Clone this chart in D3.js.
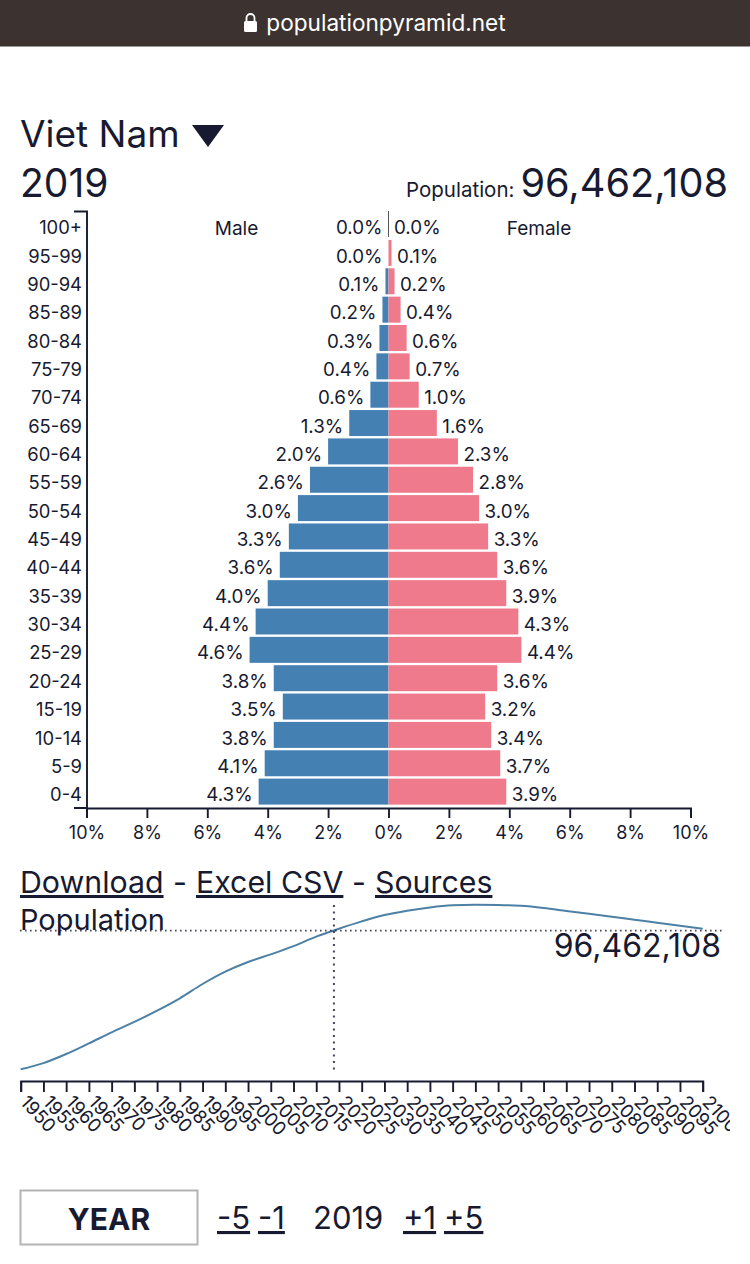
<!DOCTYPE html>
<html><head><meta charset="utf-8">
<script src="https://cdnjs.cloudflare.com/ajax/libs/d3/7.8.5/d3.min.js"></script>
<style>
html,body{margin:0;padding:0;background:#fff;overflow:hidden}
svg{display:block}
text{font-family:Inter,"Noto Sans",sans-serif;fill:#171a30}
.domain,.tick line{stroke:#171a30;stroke-width:1.9;fill:none}
</style></head><body>
<svg id="c" width="750" height="1264"></svg>
<script>
const ageGroups=["100+","95-99","90-94","85-89","80-84","75-79","70-74","65-69","60-64","55-59","50-54","45-49","40-44","35-39","30-34","25-29","20-24","15-19","10-14","5-9","0-4"];
const malePct=[0.0,0.0,0.1,0.2,0.3,0.4,0.6,1.3,2.0,2.6,3.0,3.3,3.6,4.0,4.4,4.6,3.8,3.5,3.8,4.1,4.3];
const femalePct=[0.0,0.1,0.2,0.4,0.6,0.7,1.0,1.6,2.3,2.8,3.0,3.3,3.6,3.9,4.3,4.4,3.6,3.2,3.4,3.7,3.9];
const pctTicks=[10,8,6,4,2,0,-2,-4,-6,-8,-10];
const years=[1950,1955,1960,1965,1970,1975,1980,1985,1990,1995,2000,2005,2010,2015,2020,2025,2030,2035,2040,2045,2050,2055,2060,2065,2070,2075,2080,2085,2090,2095,2100];
const popMillions=[24.8,28.0,32.7,38.2,43.9,49.3,55.1,61.5,68.9,75.3,80.3,84.2,88.5,93.4,97.5,101.3,104.6,106.8,108.5,109.6,109.9,109.8,109.3,108.2,106.7,105.2,103.7,102.1,100.6,99.0,97.5];
const currentYear=2019, currentPop=96.462108;

const ink="#171a30", blue="#4580b3", pink="#ef7a8b", lineColor="#4d80a6";
const svg=d3.select("#c");
const T=(x,y,s,size,o={})=>{const t=svg.append("text").attr("x",x).attr("y",y).attr("font-size",size).text(s);
  if(o.anchor)t.attr("text-anchor",o.anchor);if(o.weight)t.attr("font-weight",o.weight);
  if(o.u)t.style("text-decoration","underline");if(o.fill)t.style("fill",o.fill);return t;};

// browser bar
svg.append("rect").attr("width",750).attr("height",46.5).attr("fill","#3c3331");
svg.append("rect").attr("x",244).attr("y",21).attr("width",13).attr("height",11).attr("rx",1.5).attr("fill","#fff");
svg.append("path").attr("d","M246.5 21v-3a4 4 0 0 1 8 0v3").attr("fill","none").attr("stroke","#fff").attr("stroke-width",1.8);
T(386,31,"populationpyramid.net",22.6,{anchor:"middle",fill:"#fff"});

// headings
T(20,147,"Viet Nam",37);
svg.append("path").attr("d","M192 125H224L208 147Z").attr("fill",ink);
T(20,197,"2019",39);
T(406,196.5,"Population:",20.5);
T(728,197,"96,462,108",39.7,{anchor:"end"});

// pyramid
const x=d3.scaleLinear().domain([10,-10]).range([86.5,690.5]);
const y=d3.scaleBand().domain(ageGroups).range([211.6,804.6]).paddingInner(0.083);
const rows=ageGroups.map((a,i)=>({a,m:malePct[i],f:femalePct[i]}));
svg.append("g").selectAll("rect").data(rows).join("rect")
  .attr("x",d=>x(d.m)).attr("y",d=>y(d.a)).attr("width",d=>x(0)-x(d.m)).attr("height",y.bandwidth()).attr("fill",blue);
svg.append("g").selectAll("rect").data(rows).join("rect")
  .attr("x",x(0)).attr("y",d=>y(d.a)).attr("width",d=>x(-d.f)-x(0)).attr("height",y.bandwidth()).attr("fill",pink);
svg.append("line").attr("x1",x(0)).attr("x2",x(0)).attr("y1",211).attr("y2",237).attr("stroke","#555").attr("stroke-width",1);
const mid=a=>y(a)+y.bandwidth()/2+9.6;
svg.append("g").selectAll("text").data(rows).join("text").attr("font-size",18.8)
  .attr("text-anchor","end").attr("x",d=>x(d.m)-6).attr("y",d=>mid(d.a)).text(d=>d.m.toFixed(1)+"%");
svg.append("g").selectAll("text").data(rows).join("text").attr("font-size",18.8)
  .attr("x",d=>x(-d.f)+5.5).attr("y",d=>mid(d.a)).text(d=>d.f.toFixed(1)+"%");
T(236.5,235,"Male",19,{anchor:"middle"});
T(539,235,"Female",19,{anchor:"middle"});

const yAxis=d3.axisLeft(y).tickSize(0).tickPadding(5);
const yG=svg.append("g").attr("transform","translate(87,0)").call(yAxis);
yG.attr("font-family",null);
yG.select(".domain").attr("d","M-13,211.5H0V808H-13");
yG.selectAll("text").attr("font-size",18.4).attr("dy",null).attr("y",9.6);

const xAxis=d3.axisBottom(x).tickValues(pctTicks).tickSize(10).tickSizeOuter(10).tickPadding(8).tickFormat(d=>Math.abs(d)+"%");
const xG=svg.append("g").attr("transform","translate(0,808)").call(xAxis);
xG.attr("font-family",null);
xG.selectAll("text").attr("font-size",18);

// links
T(20,893,"Download",30.3,{u:1});
T(173,893,"-",30.3);
T(196,893,"Excel CSV",30.3,{u:1});
T(352,893,"-",30.3);
T(375,893,"Sources",30.3,{u:1});
T(20,930,"Population",29);

// population line
const px=d3.scaleLinear().domain([1950,2100]).range([20.7,702.7]);
const py=d3.scaleLinear().domain([24.8,109.9]).range([1069.3,904.7]);
const line=d3.line().x((d,i)=>px(years[i])).y(d=>py(d)).curve(d3.curveMonotoneX);
svg.append("path").attr("d",line(popMillions)).attr("fill","none").attr("stroke",lineColor).attr("stroke-width",2);
svg.append("line").attr("x1",20).attr("x2",725).attr("y1",py(currentPop)).attr("y2",py(currentPop))
  .attr("stroke",ink).attr("stroke-dasharray","1.6 3.4").attr("stroke-width",1.8).attr("opacity",.8);
svg.append("line").attr("x1",px(currentYear)-0.5).attr("x2",px(currentYear)-0.5).attr("y1",905).attr("y2",1070)
  .attr("stroke",ink).attr("stroke-dasharray","2 4.5").attr("stroke-width",2).attr("opacity",.8);
T(721,957,"96,462,108",32,{anchor:"end"});

// year axis, clipped at the right as in the original
svg.append("clipPath").attr("id","yc").append("rect").attr("x",0).attr("y",1060).attr("width",730).attr("height",100);
const yearAxis=d3.axisBottom(px).tickValues(years).tickFormat(d3.format("d")).tickSize(11).tickSizeOuter(11).tickPadding(5);
const yr=svg.append("g").attr("clip-path","url(#yc)").append("g").attr("transform","translate(0,1081)").call(yearAxis);
yr.attr("font-family",null);
yr.selectAll("text").attr("font-size",18.5).attr("text-anchor","start").attr("dy",null).attr("y",0)
  .attr("transform","translate(-2,22) rotate(47)");

// year controls
svg.append("rect").attr("x",20.5).attr("y",1190.5).attr("width",177).attr("height",54).attr("fill","#fff").attr("stroke","#b4b4b4").attr("stroke-width",2);
T(109,1230,"YEAR",30,{anchor:"middle",weight:700});
T(217,1229,"-5",31,{u:1});
T(258,1229,"-1",31,{u:1});
T(313,1229,"2019",31);
T(403,1229,"+1",31,{u:1});
T(444,1229,"+5",31,{u:1});
</script>
</body></html>
